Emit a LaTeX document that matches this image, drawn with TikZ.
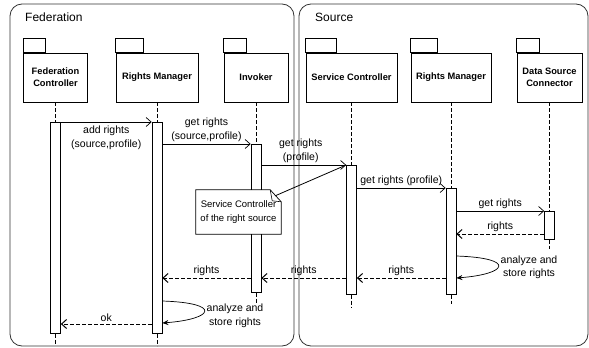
\documentclass[tikz,border=0pt]{standalone}
\usepackage{fontspec}
\setmainfont{Liberation Sans}
\usetikzlibrary{arrows.meta,calc}

\tikzset{
  zone/.style={draw=black!80, line width=0.8pt, rounded corners=12pt},
  pkg/.style={draw, fill=white, line width=0.7pt, minimum height=49pt, inner sep=1pt, align=center, font=\fontsize{9.3}{12}\selectfont\bfseries},
  act/.style={draw, fill=white, line width=0.7pt, minimum width=10pt, inner sep=0pt, anchor=north},
  life/.style={line width=0.9pt, dash pattern=on 4pt off 2pt},
  msg/.style={line width=0.7pt, -{Straight Barb[length=5pt,width=9pt]}},
  ret/.style={msg, line width=1pt, dash pattern=on 4pt off 2pt},
  selfcall/.style={line width=0.7pt, -{Stealth[length=6pt,width=5pt]}},
  lbl/.style={font=\fontsize{10.5}{14}\selectfont, align=center, inner sep=1pt},
}

\begin{document}
\begin{tikzpicture}[x=1pt,y=-1pt]
\useasboundingbox (0,0) rectangle (589,348);
	%ZONES
	\draw[zone] (10,4) rectangle (294,346);
	\draw[zone] (299,4) rectangle (588,346);
	\node[anchor=west, inner sep=0pt, font=\fontsize{12}{14}\selectfont] (fed) at (25,17) {Federation};
	\node[anchor=west, inner sep=0pt, font=\fontsize{12}{14}\selectfont] (src) at (315,17) {Source};

	%PACKAGES
	\node[pkg, minimum width=64pt] (fc) at (55.5,77.5) {Federation\\Controller};
	\node[pkg, minimum width=82pt] (rmf) at (157,77.5) {Rights Manager};
	\node[pkg, minimum width=64pt] (inv) at (256,77.5) {Invoker};
	\node[pkg, minimum width=91pt] (sc) at (351.5,77.5) {Service Controller};
	\node[pkg, minimum width=80pt] (rms) at (451,77.5) {Rights Manager};
	\node[pkg, minimum width=65pt] (dsc) at (549.5,77.5) {Data Source\\Connector};
	\foreach \n/\w in {fc/22,rmf/28,inv/23,sc/31,rms/27,dsc/23}
		\draw[line width=0.7pt] (\n.north west) rectangle ++(\w,-14);

	%ACTIVATIONS
	\node[act, minimum height=211pt] (fc-a) at (fc.south |- 0,122) {};
	\node[act, minimum height=211pt] (rmf-a) at (rmf.south |- 0,122) {};
	\node[act, minimum height=148pt] (inv-a) at (inv.south |- 0,144) {};
	\node[act, minimum height=129pt] (sc-a) at (sc.south |- 0,165) {};
	\node[act, minimum height=106pt] (rms-a) at (rms.south |- 0,188) {};
	\node[act, minimum height=28pt] (dsc-a) at (dsc.south |- 0,211) {};
	\foreach \n/\l in {fc/10,rmf/12,inv/10,sc/13,rms/9,dsc/9}{
		\draw[life] (\n.south) -- (\n-a.north);
		\draw[life] (\n-a.south) -- ++(0,\l);
	}

	%MESSAGES
	\draw[msg] (fc-a.east |- 0,122) -- node[lbl, below=3pt] (m1) {add rights\\(source,profile)} (rmf-a.west |- 0,122);
	\draw[msg] (rmf-a.east |- 0,144) -- node[lbl, above=1pt] (m2) {get rights\\(source,profile)} (inv-a.north west);
	\draw[msg] (inv-a.east |- 0,165) -- node[lbl, above=1pt, xshift=-3pt] (m3) {get rights\\(profile)} (sc-a.north west);
	\draw[msg] (sc-a.east |- 0,188) -- node[lbl, above=1pt] (m4) {get rights (profile)} (rms-a.north west);
	\draw[msg] (rms-a.east |- 0,211) -- node[lbl, above=1pt] (m5) {get rights} (dsc-a.north west);
	\draw[ret] (dsc-a.west |- 0,234) -- node[lbl, above=1pt] (m6) {rights} (rms-a.east |- 0,234);
	\draw[selfcall] (rms-a.east |- 0,256) .. controls +(60,2) and +(52,-4) .. (rms-a.east |- 0,278);
	\node[lbl, font=\fontsize{10.5}{12.6}\selectfont] (m7) at (529,267) {analyze and\\store rights};
	\draw[ret] (rms-a.west |- 0,278) -- node[lbl, above=1pt] (m8) {rights} (sc-a.east |- 0,278);
	\draw[ret] (sc-a.west |- 0,278) -- node[lbl, above=1pt] (m9) {rights} (inv-a.east |- 0,278);
	\draw[ret] (inv-a.west |- 0,278) -- node[lbl, above=1pt] (m10) {rights} (rmf-a.east |- 0,278);
	\draw[selfcall] (rmf-a.east |- 0,301) .. controls +(60,2) and +(52,-4) .. (rmf-a.east |- 0,323);
	\node[lbl] (m11) at (235,316) {analyze and\\store rights};
	\draw[ret] (rmf-a.west |- 0,324) -- node[lbl, above=1pt] (m12) {ok} (fc-a.east |- 0,324);

	%NOTE
	\node[lbl, fill=white, minimum width=85pt, minimum height=44pt, font=\fontsize{9.5}{14}\selectfont] (note) at (238.5,212) {Service Controller\\of the right source};
	\draw[line width=0.7pt] (note.north west) -- ($(note.north east)+(-11,0)$) -- ($(note.north east)+(0,12)$) -- (note.south east) -- (note.south west) -- cycle;
	\draw[line width=0.6pt] ($(note.north east)+(-11,0)$) -- ($(note.north east)+(-9,11)$) -- ($(note.north east)+(0,12)$);
	\draw[line width=0.8pt] ($(note.north east)+(-6,6)$) -- (sc-a.north west);
\end{tikzpicture}
\end{document}
